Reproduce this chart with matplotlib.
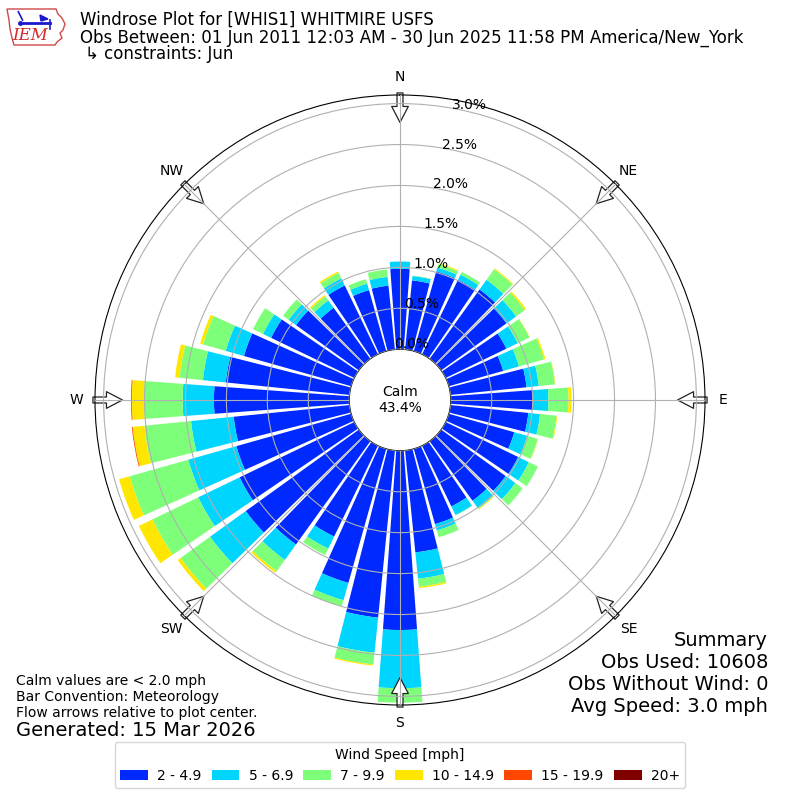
import numpy as np
import matplotlib
matplotlib.use("Agg")
import matplotlib.pyplot as plt
from matplotlib.patches import Polygon

# ---------------- data (percent of observations) ----------------
directions = np.arange(0, 360, 10)
speed_labels = ["2 - 4.9", "5 - 6.9", "7 - 9.9", "10 - 14.9", "15 - 19.9", "20+"]

spd_2_5 = [0.982, 0.848, 1.012, 1.010, 1.043, 0.982, 0.823, 0.689, 0.933, 1.006,
           0.955, 0.830, 0.982, 0.970, 0.896, 0.823, 0.955, 1.250, 2.189, 2.051,
           1.701, 1.232, 1.555, 1.701, 1.555, 1.457, 1.421, 1.652, 1.518, 1.360,
           1.128, 0.945, 0.768, 0.933, 0.774, 0.783]
spd_5_7 = [0.089, 0.054, 0.049, 0.069, 0.146, 0.146, 0.154, 0.201, 0.151, 0.187,
           0.144, 0.163, 0.146, 0.146, 0.116, 0.117, 0.080, 0.323, 0.711, 0.431,
           0.220, 0.164, 0.232, 0.537, 0.561, 0.610, 0.524, 0.382, 0.281, 0.231,
           0.110, 0.110, 0.110, 0.097, 0.082, 0.108]
spd_7_10 = [0.000, 0.005, 0.043, 0.037, 0.159, 0.131, 0.158, 0.317, 0.198, 0.244,
            0.203, 0.135, 0.122, 0.110, 0.006, 0.005, 0.086, 0.099, 0.176, 0.144,
            0.079, 0.086, 0.170, 0.445, 0.622, 0.744, 0.573, 0.472, 0.288, 0.287,
            0.134, 0.085, 0.061, 0.074, 0.057, 0.091]
spd_10_15 = [0.000, 0.000, 0.012, 0.000, 0.012, 0.021, 0.005, 0.019, 0.005, 0.039,
             0.009, 0.005, 0.000, 0.000, 0.009, 0.000, 0.000, 0.017, 0.000, 0.014,
             0.000, 0.000, 0.025, 0.043, 0.183, 0.134, 0.144, 0.150, 0.053, 0.037,
             0.000, 0.000, 0.018, 0.018, 0.000, 0.000]
spd_15_20 = [0.0] * 26 + [0.010, 0.010] + [0.0] * 8
spd_20p = [0.0] * 36
speed_bins = [spd_2_5, spd_5_7, spd_7_10, spd_10_15, spd_15_20, spd_20p]

calm_pct = 43.4
obs_used = 10608
obs_without_wind = 0
avg_speed = 3.0
compass_deg = np.arange(0, 360, 45)
compass_labels = ["N", "NE", "E", "SE", "S", "SW", "W", "NW"]
r_ticks = [0.0, 0.5, 1.0, 1.5, 2.0, 2.5, 3.0]

# ---------------- figure ----------------
fig = plt.figure(figsize=(8, 8), dpi=100)
ax = fig.add_axes([0.11875, 0.11875, 0.7625, 0.7625], projection="polar")
ax.set_theta_zero_location("N")
ax.set_theta_direction(-1)

colors = [plt.cm.jet(i / 6.0) for i in range(1, 7)]
theta = np.deg2rad(directions)
width = np.deg2rad(8.5)
bottom = np.zeros(len(directions))
handles = []
for vals, col, lab in zip(speed_bins, colors, speed_labels):
    vals = np.asarray(vals)
    b = ax.bar(theta, vals, width=width, bottom=bottom, color=col,
               label=lab, linewidth=0, zorder=1)
    handles.append(b)
    bottom = bottom + vals

ax.set_ylim(0, 3.105)
ax.set_rorigin(-0.62)
ax.set_axisbelow(False)
ax.grid(True, color="#b0b0b0", linewidth=0.8)

ax.set_xticks(np.deg2rad(compass_deg))
ax.set_xticklabels(compass_labels, fontsize=10)
ax.tick_params(axis="x", pad=2.6)
ax.set_yticks(r_ticks)
ax.set_yticklabels(["%.1f%%" % v for v in r_ticks], fontsize=10)
ax.set_rlabel_position(13.5)
for lbl in ax.get_yticklabels():
    lbl.set_horizontalalignment("center")
    lbl.set_verticalalignment("bottom")

# flow arrows at the rim, pointing to the centre
for d in compass_deg:
    ax.annotate("", xy=(np.deg2rad(d), 2.77), xytext=(np.deg2rad(d), 3.13),
                arrowprops=dict(facecolor="white", edgecolor="#222222", lw=0.9,
                                width=4.3, headwidth=12, headlength=11.5, shrink=0),
                annotation_clip=False, zorder=2)

ax.text(0.5, 0.5, "Calm\n%.1f%%" % calm_pct, transform=ax.transAxes,
        ha="center", va="center", fontsize=10)

# ---------------- header ----------------
fig.text(80 / 800, 1 - 25 / 800, "Windrose Plot for [WHIS1] WHITMIRE USFS",
         fontsize=12, va="baseline")
fig.text(80 / 800, 1 - 42.3 / 800,
         "Obs Between: 01 Jun 2011 12:03 AM - 30 Jun 2025 11:58 PM America/New_York",
         fontsize=12, va="baseline")
fig.text(85 / 800, 1 - 59.3 / 800, "\u21b3 constraints: Jun", fontsize=12, va="baseline")

# logo
lax = fig.add_axes([0, 1 - 55 / 800, 70 / 800, 55 / 800])
lax.set_xlim(0, 70)
lax.set_ylim(55, 0)
lax.axis("off")
iowa = np.array([[7, 9], [56, 9], [58, 14], [62, 18], [65, 24], [63, 30], [60, 33],
                 [62, 38], [57, 42], [55, 45], [14, 45], [12, 38], [10, 29], [9, 20]])
lax.add_patch(Polygon(iowa, closed=True, fill=False, edgecolor="#d04848", lw=1.0))
lax.text(30, 35, "IEM", color="#d42a2a", fontsize=12, fontstyle="italic",
         family="DejaVu Serif", ha="center", va="center")
lax.plot([21.7, 50], [23.3, 23.3], color="#1a1acc", lw=2)
lax.plot([18.3, 22.5], [11.7, 20], color="#1a1acc", lw=1.2)
lax.add_patch(Polygon([[40, 15], [48, 19], [41, 21]], closed=True, color="#1a1acc"))
lax.plot([50, 50], [20, 29], color="#1a1acc", lw=1.2)
lax.plot([20], [23.3], "o", color="#1a1acc", ms=2.5)

# ---------------- footer ----------------
fig.text(16 / 800, 1 - 685 / 800, "Calm values are < 2.0 mph", fontsize=10, va="baseline")
fig.text(16 / 800, 1 - 700.7 / 800, "Bar Convention: Meteorology", fontsize=10, va="baseline")
fig.text(16 / 800, 1 - 716.7 / 800, "Flow arrows relative to plot center.", fontsize=10,
         va="baseline")
fig.text(16 / 800, 1 - 736 / 800, "Generated: 15 Mar 2026", fontsize=14, va="baseline")

fig.text(768 / 800, 1 - 646 / 800, "Summary", fontsize=14, ha="right", va="baseline")
fig.text(768 / 800, 1 - 668 / 800, "Obs Used: %d" % obs_used, fontsize=14, ha="right",
         va="baseline")
fig.text(768 / 800, 1 - 690 / 800, "Obs Without Wind: %d" % obs_without_wind, fontsize=14,
         ha="right", va="baseline")
fig.text(768 / 800, 1 - 712 / 800, "Avg Speed: %.1f mph" % avg_speed, fontsize=14,
         ha="right", va="baseline")

fig.legend(handles, speed_labels, loc="lower center", bbox_to_anchor=(0.5, 0.006),
           ncol=6, title="Wind Speed [mph]", fontsize=10, title_fontsize=10,
           handletextpad=0.65, columnspacing=0.75)

fig.savefig("out.png", dpi=100)
